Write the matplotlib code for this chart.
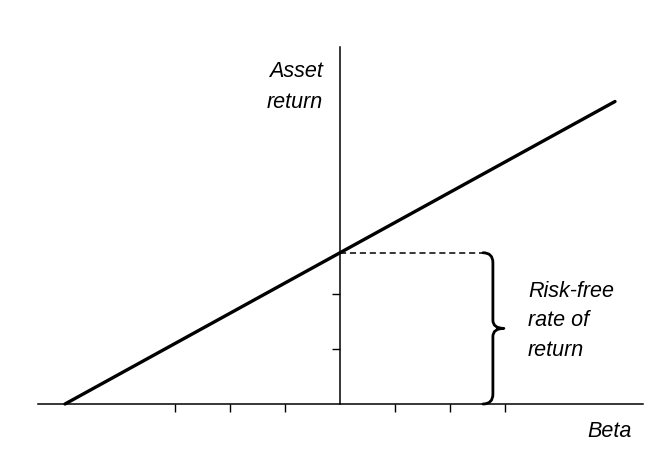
import matplotlib.pyplot as plt
from matplotlib.path import Path
from matplotlib.patches import PathPatch

# security market line: return = rf + slope * (beta - beta0)
beta = [-5, 5]
rf = 2.75
slope = 0.55
ret = [rf + slope * b for b in beta]

x_ticks = [-3, -2, -1, 1, 2, 3]
y_ticks = [1, 2]
x_axis_end = 5.5
y_axis_top = 6.5

fig = plt.figure(figsize=(6.64, 4.56), dpi=100)
ax = fig.add_axes([0, 0, 1, 1])
ax.set_xlim(-340 / 55, 324 / 55)
ax.set_ylim(-51 / 55, 405 / 55)

ax.spines['top'].set_visible(False)
ax.spines['right'].set_visible(False)
ax.spines['left'].set_position(('data', 0))
ax.spines['bottom'].set_position(('data', 0))
ax.spines['left'].set_bounds(0, y_axis_top)
ax.spines['bottom'].set_bounds(-x_axis_end, x_axis_end)
for s in ('left', 'bottom'):
    ax.spines[s].set_linewidth(1.1)
ax.set_xticks(x_ticks)
ax.set_yticks(y_ticks)
ax.set_xticklabels([])
ax.set_yticklabels([])
ax.tick_params(direction='out', length=5.8, width=1.0)

ax.plot(beta, ret, color='black', lw=2.4, solid_capstyle='round')

# dashed line from intercept to the brace
ax.plot([0, 2.64], [rf, rf], color='black', lw=1.1, ls=(0, (4, 2.5)))

# curly brace from 0 up to rf
xb, xt, xs = 2.78, 2.98, 2.6
h = rf / 2
verts = [(xs, rf), (xb, rf), (xb, rf - 0.18),
         (xb, h + 0.15),
         (xb, h), (xt, h),
         (xb, h), (xb, h - 0.15),
         (xb, 0.18),
         (xb, 0), (xs, 0)]
codes = [Path.MOVETO, Path.CURVE3, Path.CURVE3,
         Path.LINETO,
         Path.CURVE3, Path.CURVE3,
         Path.CURVE3, Path.CURVE3,
         Path.LINETO,
         Path.CURVE3, Path.CURVE3]
ax.add_patch(PathPatch(Path(verts, codes), fill=False, lw=2.0, color='black',
                       capstyle='round', joinstyle='round'))

font = dict(family=['Liberation Sans', 'DejaVu Sans'], style='italic', fontsize=15.5)
ax.text(-0.31, 5.78, 'Asset\nreturn', ha='right', va='center', linespacing=1.6, **font)
ax.text(5.31, -0.49, 'Beta', ha='right', va='center', **font)
ax.text(3.42, 1.53, 'Risk-free\nrate of\nreturn', ha='left', va='center', linespacing=1.55, **font)

fig.savefig('out.png', dpi=100)
